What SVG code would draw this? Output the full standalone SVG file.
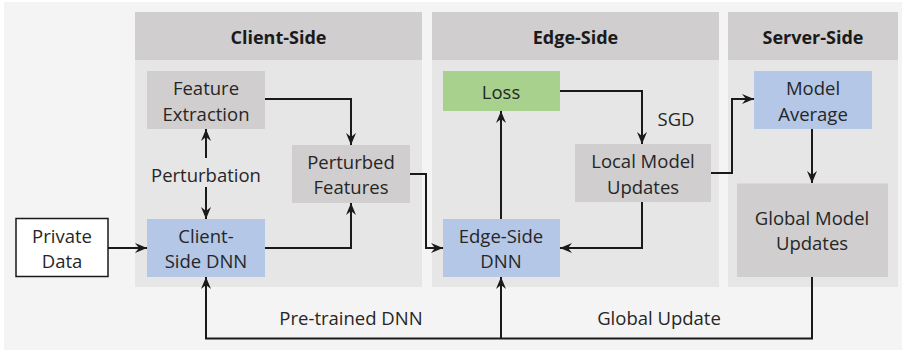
<svg xmlns="http://www.w3.org/2000/svg" width="906" height="352" viewBox="0 0 906 352">
<style>
.hdr{fill:#d0cece}
.body{fill:#e6e6e6}
.gray{fill:#d0cece}
.blue{fill:#b4c7e7}
.green{fill:#a9d18e}
text{font-family:"Open Sans","Liberation Sans",sans-serif;font-size:18.5px;fill:#262626;text-anchor:middle}
.h{font-weight:bold;font-size:18px;fill:#1a1a1a}
.c{fill:none;stroke:#1a1a1a;stroke-width:2}
</style>
<defs>
<marker id="ah" viewBox="0 0 12 10" markerUnits="userSpaceOnUse" markerWidth="12" markerHeight="10" refX="12" refY="5" orient="auto">
<path d="M0,0 L12,5 L0,10 L4,5 z" fill="#1a1a1a"/>
</marker>
</defs>
<rect x="0" y="0" width="906" height="352" fill="#ffffff"/>
<rect x="4" y="2" width="898" height="348" fill="#f4f4f4"/>

<g id="panel-client">
<rect class="body" x="135" y="12" width="287" height="275"/>
<rect class="hdr" x="135" y="12" width="287" height="48"/>
<text class="h" x="278.5" y="44">Client-Side</text>
</g>
<g id="panel-edge">
<rect class="body" x="432" y="12" width="287" height="275"/>
<rect class="hdr" x="432" y="12" width="287" height="48"/>
<text class="h" x="575.5" y="44">Edge-Side</text>
</g>
<g id="panel-server">
<rect class="body" x="728" y="12" width="170" height="275"/>
<rect class="hdr" x="728" y="12" width="170" height="48"/>
<text class="h" x="813" y="44">Server-Side</text>
</g>

<g id="connectors">
<path class="c" d="M265,99 H351 V145" marker-end="url(#ah)"/>
<path class="c" d="M206,158 V129" marker-end="url(#ah)"/>
<path class="c" d="M206,187 V219" marker-end="url(#ah)"/>
<path class="c" d="M108,248 H147" marker-end="url(#ah)"/>
<path class="c" d="M265,248 H351 V203" marker-end="url(#ah)"/>
<path class="c" d="M410,174 H426 V248 H443" marker-end="url(#ah)"/>
<path class="c" d="M501,219 V111" marker-end="url(#ah)"/>
<path class="c" d="M560,91 H642 V144" marker-end="url(#ah)"/>
<path class="c" d="M642,202 V248 H560" marker-end="url(#ah)"/>
<path class="c" d="M711,173 H732 V99 H754" marker-end="url(#ah)"/>
<path class="c" d="M812,129 V183" marker-end="url(#ah)"/>
<path class="c" d="M812,277 V338.5 H206 V277" marker-end="url(#ah)"/>
<path class="c" d="M501,338.5 V277" marker-end="url(#ah)"/>
<text x="206" y="182">Perturbation</text>
<text x="676" y="125.5">SGD</text>
<text x="351" y="325">Pre-trained DNN</text>
<text x="659" y="325">Global Update</text>
</g>

<g id="feature-extraction">
<rect class="gray" x="147" y="71" width="118" height="58"/>
<text x="206" y="95">Feature</text>
<text x="206" y="120.5">Extraction</text>
</g>
<g id="perturbed-features">
<rect class="gray" x="292" y="145" width="118" height="58"/>
<text x="351" y="168.5">Perturbed</text>
<text x="351" y="194">Features</text>
</g>
<g id="client-dnn">
<rect class="blue" x="147" y="219" width="118" height="58"/>
<text x="206" y="242.5">Client-</text>
<text x="206" y="268">Side DNN</text>
</g>
<g id="private-data">
<rect x="16" y="218.5" width="92" height="58" fill="#ffffff" stroke="#1a1a1a" stroke-width="1.5"/>
<text x="62" y="242.5">Private</text>
<text x="62" y="268">Data</text>
</g>
<g id="loss">
<rect class="green" x="443" y="71" width="117" height="40"/>
<text x="501" y="99">Loss</text>
</g>
<g id="local-model-updates">
<rect class="gray" x="575" y="144" width="136" height="58"/>
<text x="643" y="168">Local Model</text>
<text x="643" y="194">Updates</text>
</g>
<g id="edge-dnn">
<rect class="blue" x="443" y="219" width="117" height="58"/>
<text x="501" y="242.5">Edge-Side</text>
<text x="501" y="268">DNN</text>
</g>
<g id="model-average">
<rect class="blue" x="754" y="71" width="118" height="58"/>
<text x="813" y="95">Model</text>
<text x="813" y="120.5">Average</text>
</g>
<g id="global-model-updates">
<rect class="gray" x="737" y="183.5" width="151" height="93.5"/>
<text x="812" y="224.5">Global Model</text>
<text x="812" y="250">Updates</text>
</g>
</svg>
